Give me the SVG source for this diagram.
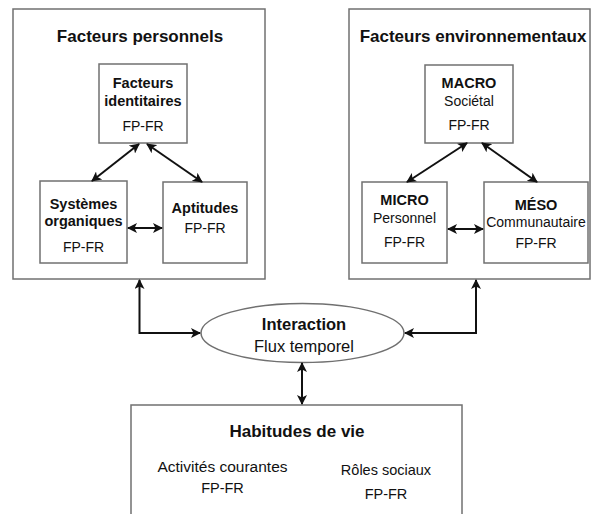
<svg xmlns="http://www.w3.org/2000/svg" width="591" height="514" viewBox="0 0 591 514">
<defs>
<marker id="ah" viewBox="0 0 10 10" refX="9" refY="5" markerWidth="10" markerHeight="10" markerUnits="userSpaceOnUse" orient="auto-start-reverse">
<path d="M0,0 L10,5 L0,10 L2.5,5 z" fill="#111"/>
</marker>
</defs>
<style>
.box{fill:#fff;stroke:#707070;stroke-width:1.5}
.con{fill:none;stroke:#111;stroke-width:2;marker-start:url(#ah);marker-end:url(#ah)}
text{font-family:"Liberation Sans",Arial,sans-serif;fill:#111;text-anchor:middle}
.t{font-size:17px;font-weight:bold}
.b{font-size:14.5px;font-weight:bold}
.r{font-size:14px}
.f{font-size:14px}
</style>
<rect width="591" height="514" fill="#fff"/>
<g id="facteurs-personnels">
<rect class="box" x="13" y="9" width="252" height="270"/>
<text class="t" x="140" y="42">Facteurs personnels</text>
</g>
<g id="facteurs-identitaires">
<rect class="box" x="99" y="64" width="88" height="79"/>
<text class="b" x="143" y="88">Facteurs</text>
<text class="b" x="143" y="106">identitaires</text>
<text class="f" x="143" y="131">FP-FR</text>
</g>
<g id="systemes-organiques">
<rect class="box" x="40" y="181" width="87" height="82"/>
<text class="b" x="83.5" y="209">Systèmes</text>
<text class="b" x="83.5" y="226">organiques</text>
<text class="f" x="83.5" y="252">FP-FR</text>
</g>
<g id="aptitudes">
<rect class="box" x="163" y="182" width="84" height="81"/>
<text class="b" x="205" y="213">Aptitudes</text>
<text class="f" x="205" y="233">FP-FR</text>
</g>
<g id="facteurs-environnementaux">
<rect class="box" x="349" y="9" width="241" height="270"/>
<text class="t" x="473" y="42">Facteurs environnementaux</text>
</g>
<g id="macro">
<rect class="box" x="425" y="65" width="88" height="78"/>
<text class="b" x="469" y="88">MACRO</text>
<text class="r" x="469" y="106">Sociétal</text>
<text class="f" x="469" y="130">FP-FR</text>
</g>
<g id="micro">
<rect class="box" x="362" y="182" width="85" height="81"/>
<text class="b" x="404.5" y="205">MICRO</text>
<text class="r" x="404.5" y="223">Personnel</text>
<text class="f" x="404.5" y="247">FP-FR</text>
</g>
<g id="meso">
<rect class="box" x="484" y="182" width="104" height="81"/>
<text class="b" x="536" y="210">MÉSO</text>
<text class="r" x="536" y="227">Communautaire</text>
<text class="f" x="536" y="248">FP-FR</text>
</g>
<g id="interaction">
<ellipse class="box" cx="302.5" cy="333" rx="101.5" ry="29.5"/>
<text x="304" y="330" style="font-size:16.5px;font-weight:bold">Interaction</text>
<text x="304" y="352" style="font-size:16.5px">Flux temporel</text>
</g>
<g id="habitudes-de-vie">
<rect class="box" x="131" y="405" width="331" height="120"/>
<text class="t" x="297" y="437">Habitudes de vie</text>
<text x="222.5" y="472" style="font-size:15.5px">Activités courantes</text>
<text x="222.5" y="493" style="font-size:14.5px">FP-FR</text>
<text x="386" y="475" style="font-size:14.5px">Rôles sociaux</text>
<text x="386" y="499" style="font-size:14.5px">FP-FR</text>
</g>
<g id="connectors">
<line class="con" x1="139" y1="144" x2="92" y2="181"/>
<line class="con" x1="147" y1="144" x2="202" y2="182"/>
<line class="con" x1="128" y1="228" x2="162" y2="228"/>
<line class="con" x1="467" y1="143" x2="407" y2="182"/>
<line class="con" x1="482" y1="143" x2="537" y2="182"/>
<line class="con" x1="448" y1="229" x2="483" y2="229"/>
<path class="con" d="M139.5,280 V333 H200"/>
<path class="con" d="M476,280 V333 H405"/>
<line class="con" x1="302" y1="363" x2="302" y2="404"/>
</g>
</svg>
